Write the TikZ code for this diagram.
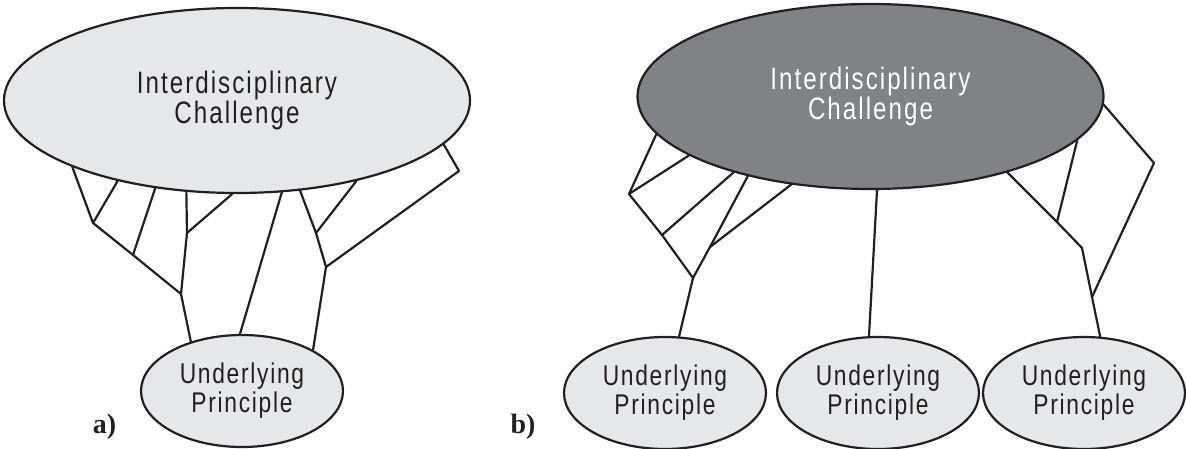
\documentclass[tikz,border=0pt]{standalone}
\usepackage{fontspec}
\setmainfont{Liberation Sans}
\newfontfamily\condfont[FakeStretch=0.78,LetterSpace=6.5]{Liberation Sans}
\newfontfamily\condfontb[FakeStretch=0.8,LetterSpace=6]{Liberation Sans}
\newfontfamily\lblfont{Liberation Serif}
\usetikzlibrary{shapes.geometric}
\definecolor{lightfill}{HTML}{E6E7E8}
\definecolor{darkfill}{HTML}{808285}
\definecolor{ink}{HTML}{231F20}
\begin{document}
\begin{tikzpicture}[x=1pt,y=-1pt,
  bigell/.style={ellipse, draw=ink, line width=2.2pt, minimum width=466pt, minimum height=185pt,
    inner sep=0pt, align=center, font=\condfont\fontsize{31}{28}\selectfont},
  smallell/.style={ellipse, draw=ink, fill=lightfill, text=ink, line width=2.2pt, minimum width=202pt,
    minimum height=112pt, inner sep=0pt, align=center, font=\condfontb\fontsize{28.5}{29}\selectfont},
  br/.style={draw=ink, line width=2.2pt, line cap=round, line join=round},
  lbl/.style={anchor=base, text=ink, inner sep=0pt, font=\lblfont\bfseries\fontsize{28}{28}\selectfont}
]
\useasboundingbox (0,0) rectangle (1186,449);

% ---------- panel a ----------
\node[bigell, fill=lightfill, text=ink] (A) at (237,100.5) {Interdisciplinary\\Challenge};
\node[smallell] (a0) at (242,391) {Underlying\\Principle};
\node[lbl] (la) at (104.5,433) {a)};

\coordinate (aJ1) at (93,223);
\coordinate (aJ2) at (133,255);
\coordinate (aJ3) at (181,294);
\coordinate (aJ4) at (187,233);
\coordinate (aJ5) at (316,233);
\coordinate (aJ6) at (326,267);
\coordinate (aK)  at (459,171);

\draw[br] (A.202.9) -- (aJ1) -- (aJ2) -- (aJ3) -- (a0.136.7);
\draw[br] (A.214.3) -- (aJ1);
\draw[br] (A.227.6) -- (aJ2);
\draw[br] (A.241.6) -- (aJ4) -- (aJ3);
\draw[br] (A.267.5) -- (aJ4);
\draw[br] (A.296.7) -- (a0.92);
\draw[br] (A.305.6) -- (aJ5) -- (aJ6) -- (a0.30);
\draw[br] (A.326.7) -- (aJ5);
\draw[br] (A.348.2) -- (aK) -- (aJ6);

% ---------- panel b ----------
\node[bigell, fill=darkfill, text=white] (B) at (870.5,96.5) {Interdisciplinary\\Challenge};
\node[smallell] (b1) at (665,393) {Underlying\\Principle};
\node[smallell] (b2) at (878,393) {Underlying\\Principle};
\node[smallell] (b3) at (1084,393) {Underlying\\Principle};
\node[lbl] (lb) at (523,433) {b)};

\coordinate (bL1) at (629,194);
\coordinate (bM)  at (662,235);
\coordinate (bJ)  at (693,278);
\coordinate (bN)  at (710,247);
\coordinate (bR1) at (1154,163);
\coordinate (bR2) at (1057,222);
\coordinate (bR3) at (1082,248);
\coordinate (bR4) at (1092,297);

\draw[br] (B.190.8) -- (bL1) -- (bM) -- (bJ) -- (b1.76.7);
\draw[br] (B.198.7) -- (bL1);
\draw[br] (B.209.1) -- (bM);
\draw[br] (B.213.3) -- (bN) -- (bJ);
\draw[br] (B.228.4) -- (bN);
\draw[br] (B.274) -- (b2.99.3);
\draw[br] (B.331) -- (bR2) -- (bR3) -- (bR4) -- (b3.74.7);
\draw[br] (B.348.1) -- (bR2);
\draw[br] (B.358.6) -- (bR1) -- (bR4);
\end{tikzpicture}
\end{document}
